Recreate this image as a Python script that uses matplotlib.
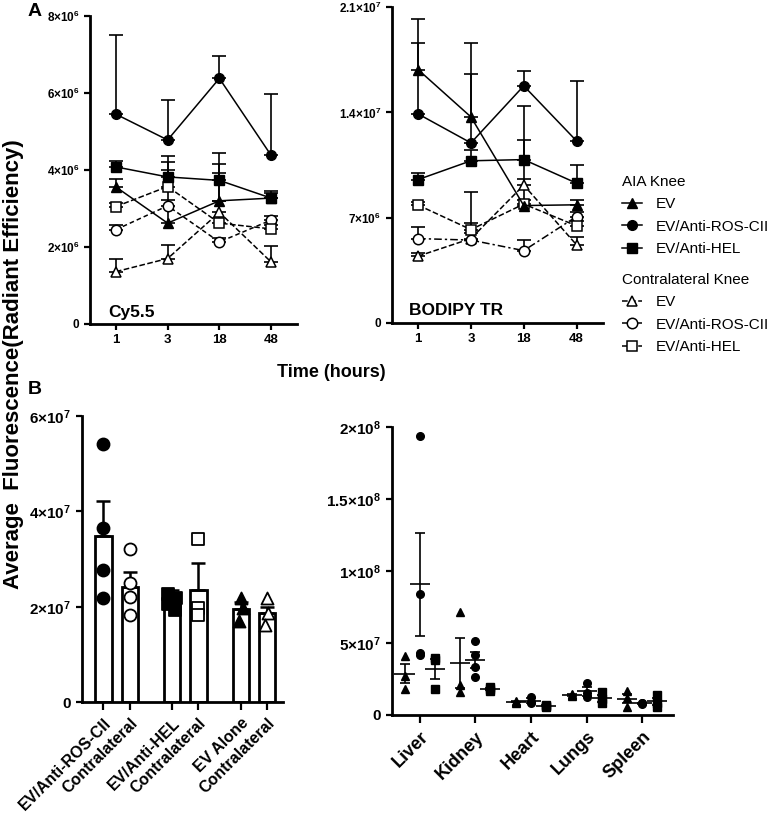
import numpy as np
import matplotlib
matplotlib.use('Agg')
import matplotlib.pyplot as plt

plt.rcParams['font.family'] = ['Liberation Sans', 'DejaVu Sans']
plt.rcParams['font.weight'] = 'bold'
plt.rcParams['mathtext.fontset'] = 'custom'
plt.rcParams['mathtext.rm'] = 'Liberation Sans:bold'
plt.rcParams['mathtext.bf'] = 'Liberation Sans:bold'
plt.rcParams['mathtext.default'] = 'bf'

W, H = 776, 817

# ---- panel A data (time course) ----
times = ['1', '3', '18', '48']

cy_ev = [3.56e6, 2.62e6, 3.20e6, 3.27e6]
cy_ros = [5.45e6, 4.78e6, 6.38e6, 4.38e6]
cy_hel = [4.08e6, 3.82e6, 3.73e6, 3.27e6]
cy_c_ev = [1.36e6, 1.70e6, 2.90e6, 1.61e6]
cy_c_ros = [2.45e6, 3.07e6, 2.13e6, 2.70e6]
cy_c_hel = [3.05e6, 3.57e6, 2.62e6, 2.47e6]
cy_ev_err = [0.20e6, 1.60e6, 0.95e6, 0.12e6]
cy_ros_err = [2.05e6, 1.04e6, 0.58e6, 1.60e6]
cy_hel_err = [0.15e6, 0.54e6, 0.72e6, 0.18e6]
cy_c_ev_err = [0.34e6, 0.34e6, 0.30e6, 0.41e6]
cy_c_ros_err = [0.13e6, 0.15e6, 0.10e6, 0.10e6]
cy_c_hel_err = [0.10e6, 0.43e6, 1.30e6, 0.10e6]

bd_ev = [16.85e6, 13.70e6, 7.80e6, 7.85e6]
bd_ros = [13.90e6, 11.97e6, 15.77e6, 12.10e6]
bd_hel = [9.53e6, 10.78e6, 10.86e6, 9.29e6]
bd_c_ev = [4.43e6, 5.60e6, 9.16e6, 5.18e6]
bd_c_ros = [5.60e6, 5.50e6, 4.80e6, 7.07e6]
bd_c_hel = [7.83e6, 6.20e6, 7.90e6, 6.45e6]
bd_ev_err = [3.35e6, 4.90e6, 6.60e6, 0.30e6]
bd_ros_err = [4.70e6, 4.60e6, 1.00e6, 3.97e6]
bd_hel_err = [0.45e6, 0.70e6, 1.29e6, 1.20e6]
bd_c_ev_err = [0.20e6, 0.35e6, 0.40e6, 0.52e6]
bd_c_ros_err = [0.80e6, 1.15e6, 0.70e6, 0.30e6]
bd_c_hel_err = [0.20e6, 2.50e6, 0.30e6, 0.30e6]

series_names = ['EV', 'EV/Anti-ROS-CII', 'EV/Anti-HEL']

# ---- panel B left (knees) ----
knee_labels = ['EV/Anti-ROS-CII', 'Contralateral', 'EV/Anti-HEL', 'Contralateral', 'EV Alone', 'Contralateral']
knee_means = [34.9e6, 24.1e6, 22.9e6, 23.6e6, 19.6e6, 18.7e6]
knee_sem = [7.3e6, 3.2e6, 0.7e6, 5.5e6, 1.4e6, 1.2e6]
knee_pts = [
    [54.2e6, 36.6e6, 27.7e6, 21.9e6],
    [32.1e6, 25.0e6, 22.1e6, 18.2e6],
    [22.6e6, 21.8e6, 20.6e6, 19.4e6],
    [34.2e6, 19.8e6, 18.4e6],
    [21.9e6, 19.8e6, 17.1e6],
    [21.9e6, 18.7e6, 16.3e6],
]

# ---- panel B right (organs) ----
organs = ['Liver', 'Kidney', 'Heart', 'Lungs', 'Spleen']
org_ev = [[41.2e6, 27.2e6, 17.9e6], [71.4e6, 20.9e6, 16.3e6], [10.0e6, 9.3e6, 8.6e6],
          [14.6e6, 14.0e6, 13.2e6], [17.0e6, 11.6e6, 5.8e6]]
org_ros = [[194e6, 84.4e6, 43.0e6, 41.9e6], [51.2e6, 41.9e6, 33.3e6, 26.3e6], [12.8e6, 9.3e6, 8.1e6],
           [22.0e6, 15.0e6, 12.3e6], [8.6e6, 8.1e6, 7.6e6]]
org_hel = [[39.5e6, 38.5e6, 17.9e6], [19.5e6, 18.2e6, 17.0e6], [7.0e6, 6.2e6, 5.8e6],
           [16.3e6, 10.9e6, 8.1e6], [14.0e6, 8.6e6, 5.8e6]]


def box(x0, y0, x1, y1):
    # pixel box (top-left origin) -> figure fraction rect
    return [x0 / W, 1 - y1 / H, (x1 - x0) / W, (y1 - y0) / H]


def sci(m, e):
    return r'$%s{\times}10^{%d}$' % (m, e)


def style_ax(ax, size):
    for s in ['top', 'right']:
        ax.spines[s].set_visible(False)
    for s in ['left', 'bottom']:
        ax.spines[s].set_linewidth(2.0)
    ax.tick_params(width=1.6, length=4, labelsize=size, direction='out')
    for lab in ax.get_xticklabels() + ax.get_yticklabels():
        lab.set_fontweight('bold')


fig = plt.figure(figsize=(W / 100, H / 100), dpi=100)

axA1 = fig.add_axes(box(90, 16, 297, 324))
axA2 = fig.add_axes(box(391.7, 7.3, 603, 322.7))
axB1 = fig.add_axes(box(81.7, 416, 283, 702.3))
axB2 = fig.add_axes(box(391.7, 427.3, 673, 715))

x = np.arange(len(times))
mk = ['^', 'o', 's']


def time_panel(ax, vals, errs, cvals, cerrs, ros_ls):
    handles = []
    for m, v, e, n in zip(mk, vals, errs, series_names):
        ax.errorbar(x, v, yerr=[np.zeros(4), e], fmt='none', ecolor='black', elinewidth=1.2,
                    capsize=5, capthick=1.2, zorder=2)
        h, = ax.plot(x, v, color='black', lw=1.1, marker=m, ms=7, mfc='black', mec='black',
                     zorder=4, label=n)
        handles.append(h)
    chandles = []
    lss = ['--', ros_ls, '--']
    for m, v, e, n, ls in zip(mk, cvals, cerrs, series_names, lss):
        ax.errorbar(x, v, yerr=[np.zeros(4), e], fmt='none', ecolor='black', elinewidth=1.2,
                    capsize=5, capthick=1.2, zorder=2)
        h, = ax.plot(x, v, color='black', lw=1.1, ls=ls, marker=m, ms=7.5, mfc='white', mec='black',
                     mew=1.1, zorder=3, label=n)
        chandles.append(h)
    ax.set_xticks(x)
    ax.set_xticklabels(times)
    ax.set_xlim(-0.5, 3.5)
    return handles, chandles


time_panel(axA1, [cy_ev, cy_ros, cy_hel], [cy_ev_err, cy_ros_err, cy_hel_err],
           [cy_c_ev, cy_c_ros, cy_c_hel], [cy_c_ev_err, cy_c_ros_err, cy_c_hel_err], (0, (3, 2)))
axA1.set_ylim(0, 8e6)
axA1.set_yticks([0, 2e6, 4e6, 6e6, 8e6])
axA1.set_yticklabels(['0', sci(2, 6), sci(4, 6), sci(6, 6), sci(8, 6)])
axA1.text(0.087, 0.036, 'Cy5.5', transform=axA1.transAxes, fontsize=12.5, fontweight='bold', va='center')
style_ax(axA1, 8.5)
axA1.tick_params(axis='x', labelsize=9.5)

hs, chs = time_panel(axA2, [bd_ev, bd_ros, bd_hel], [bd_ev_err, bd_ros_err, bd_hel_err],
                     [bd_c_ev, bd_c_ros, bd_c_hel], [bd_c_ev_err, bd_c_ros_err, bd_c_hel_err],
                     (0, (5, 2, 1.5, 2)))
axA2.set_ylim(0, 2.1e7)
axA2.set_yticks([0, 7e6, 1.4e7, 2.1e7])
axA2.set_yticklabels(['0', sci(7, 6), sci('1.4', 7), sci('2.1', 7)])
axA2.text(0.083, 0.04, 'BODIPY TR', transform=axA2.transAxes, fontsize=12.5, fontweight='bold', va='center')
style_ax(axA2, 8.5)
axA2.tick_params(axis='x', labelsize=9.5)

leg_kw = dict(frameon=False, fontsize=11, title_fontsize=11, handlelength=1.3, handletextpad=0.9,
              labelspacing=0.55, alignment='left', borderpad=0, borderaxespad=0)
leg1 = fig.legend(handles=hs, title='AIA Knee', loc='upper left',
                  bbox_to_anchor=(622 / W, 1 - 175 / H), **leg_kw)
leg2 = fig.legend(handles=chs, title='Contralateral Knee', loc='upper left',
                  bbox_to_anchor=(622 / W, 1 - 273 / H), **leg_kw)
for lg in (leg1, leg2):
    lg.get_title().set_fontweight('normal')
    for t in lg.get_texts():
        t.set_fontweight('normal')

# ---- B left: bars with points ----
bx = np.array([0, 1, 2.6, 3.6, 5.2, 6.2])
bar_mk = [('o', 'black'), ('o', 'white'), ('s', 'black'), ('s', 'white'), ('^', 'black'), ('^', 'white')]
pt_off = [[0, 0, 0, 0], [0, 0, 0, 0], [-0.15, 0.15, -0.15, 0.1], [0, 0, 0], [0, 0.1, -0.05], [0, 0.05, -0.1]]
axB1.bar(bx, knee_means, width=0.62, color='white', edgecolor='black', linewidth=2.0, zorder=1)
axB1.errorbar(bx, knee_means, yerr=[np.zeros(6), knee_sem], fmt='none', ecolor='black',
              elinewidth=1.8, capsize=5, capthick=1.8, zorder=2)
for xi, pts, (m, fc), off in zip(bx, knee_pts, bar_mk, pt_off):
    axB1.scatter(xi + np.array(off), pts, marker=m, s=75, facecolor=fc, edgecolor='black',
                 linewidth=1.3, zorder=3)
axB1.set_xlim(-0.82, 6.8)
axB1.set_ylim(0, 6e7)
axB1.set_yticks([0, 2e7, 4e7, 6e7])
axB1.set_yticklabels(['0', sci(2, 7), sci(4, 7), sci(6, 7)])
axB1.set_xticks(bx)
axB1.set_xticklabels(knee_labels, rotation=45, ha='right', rotation_mode='anchor')
style_ax(axB1, 11)
axB1.tick_params(axis='x', labelsize=11.5, length=6)

# ---- B right: organ scatter with mean +/- SEM ----
ox = np.arange(len(organs))
offs = [-0.27, 0.0, 0.27]
for off, data, m in zip(offs, [org_ev, org_ros, org_hel], ['^', 'o', 's']):
    for xi, pts in zip(ox, data):
        pts = np.array(pts)
        mean = pts.mean()
        sem = pts.std(ddof=1) / np.sqrt(len(pts))
        axB2.plot([xi + off] * len(pts), pts, ls='none', marker=m, ms=5.5, color='black', zorder=3)
        axB2.hlines(mean, xi + off - 0.18, xi + off + 0.18, color='black', lw=1.2, zorder=2)
        axB2.errorbar(xi + off, mean, yerr=sem, fmt='none', ecolor='black', elinewidth=1.2,
                      capsize=3.5, capthick=1.2, zorder=2)
axB2.set_xlim(-0.5, 4.55)
axB2.set_ylim(0, 2e8)
axB2.set_yticks([0, 5e7, 1e8, 1.5e8, 2e8])
axB2.set_yticklabels(['0', sci(5, 7), sci(1, 8), sci('1.5', 8), sci(2, 8)])
axB2.set_xticks(ox)
axB2.set_xticklabels(organs, rotation=45, ha='right', rotation_mode='anchor')
style_ax(axB2, 11)
axB2.tick_params(axis='x', labelsize=13, length=6)

# ---- figure texts ----
fig.text(331 / W, 1 - 372.7 / H, 'Time (hours)', fontsize=13, fontweight='bold', ha='center', va='center')
fig.text(13.5 / W, 1 - 364 / H, 'Average  Fluorescence(Radiant Efficiency)', fontsize=16,
         fontweight='bold', rotation=90, ha='center', va='center')
fig.text(35 / W, 1 - 12 / H, 'A', fontsize=14, fontweight='bold', ha='center', va='center')
fig.text(35 / W, 1 - 389 / H, 'B', fontsize=14, fontweight='bold', ha='center', va='center')

fig.savefig('out.png', dpi=100)
